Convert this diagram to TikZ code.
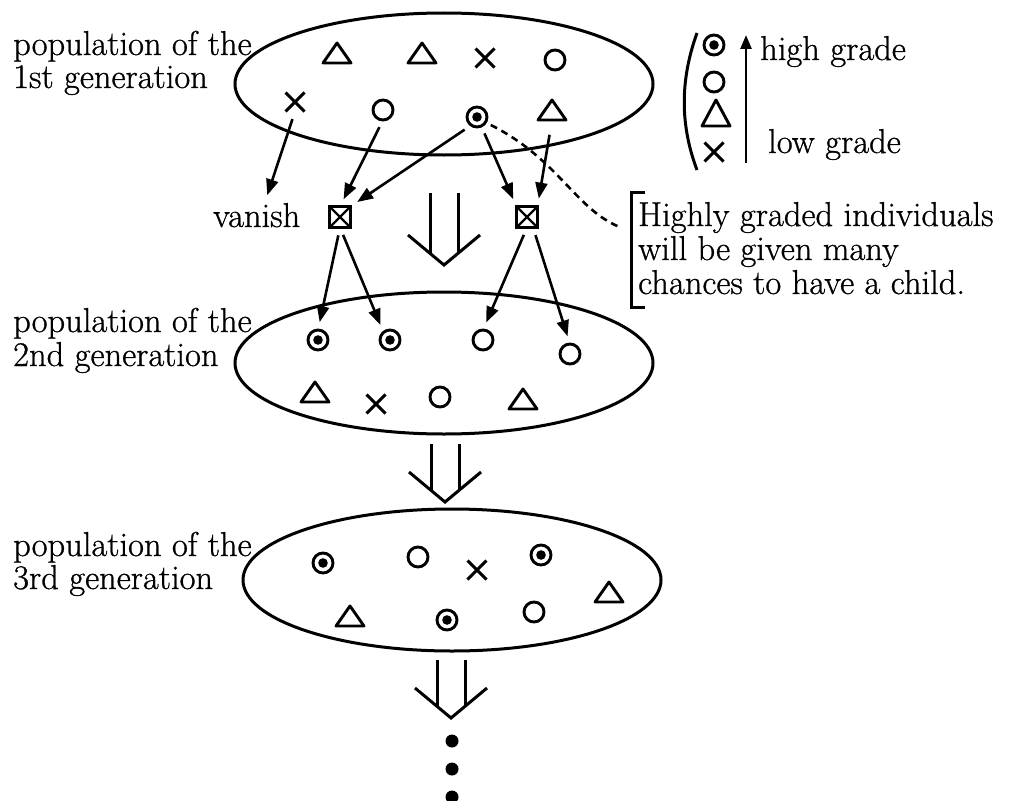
\documentclass[tikz,border=0pt]{standalone}
\usepackage{fontspec}
\setmainfont{Latin Modern Roman}[FakeBold=0.8]
\usetikzlibrary{arrows.meta,shapes.geometric,shapes.misc}
\newcommand{\trisym}[3][tri]{\node[#1] (#2) at (#3) {};
  \draw[triline] (#2.south west) -- (#2.north) -- (#2.south east) -- cycle;}
\newcommand{\hollowdown}[3]{%
  \draw[dblline] (#1-14,#2) -- (#1-14,#2+#3+18) (#1+14,#2) -- (#1+14,#2+#3+18);
  \draw[dblline] (#1-36,#2+#3) -- (#1,#2+#3+30) -- (#1+36,#2+#3);}
\begin{document}
\begin{tikzpicture}[x=1pt,y=-1pt,
  txt/.style={font=\fontsize{34.5}{36}\selectfont, inner sep=0pt, anchor=base west},
  pop/.style={ellipse, draw, line width=3pt, minimum width=418pt, minimum height=142pt, inner sep=0pt},
  symc/.style={circle, draw, line width=2.9pt, minimum size=20pt, inner sep=0pt, outer sep=0pt},
  symd/.style={symc, path picture={\fill (path picture bounding box.center) circle[radius=4.8pt];}},
  symx/.style={cross out, draw, line width=2.9pt, minimum size=19pt, inner sep=0pt, outer sep=0pt},
  tri/.style={inner sep=0pt, outer sep=0pt, minimum width=28pt, minimum height=20pt},
  bigtri/.style={inner sep=0pt, outer sep=0pt, minimum width=28pt, minimum height=26pt},
  triline/.style={line width=2.9pt, line join=round},
  boxsym/.style={draw, line width=3.2pt, minimum size=21pt, inner sep=0pt, outer sep=0pt,
    path picture={\draw[line width=2.4pt] (path picture bounding box.south west) -- (path picture bounding box.north east)
      (path picture bounding box.north west) -- (path picture bounding box.south east);}},
  arr/.style={line width=2.6pt, -{Triangle[length=16pt,width=12pt]}, shorten <=8pt, shorten >=8pt},
  dblline/.style={line width=3pt},
  dashline/.style={line width=2.6pt, dash pattern=on 7pt off 5pt},
  brk/.style={line width=3pt}
]
\useasboundingbox (0,0) rectangle (1011,800);

% populations
\node[pop] (pop1) at (444,84) {};
\node[pop] (pop2) at (444,363) {};
\node[pop] (pop3) at (452,580) {};

% labels
\node[txt] (lab1a) at (13,55) {population of the};
\node[txt] (lab1b) at (13,88) {1st generation};
\node[txt] (lab2a) at (13,332) {population of the};
\node[txt] (lab2b) at (13,366) {2nd generation};
\node[txt] (lab3a) at (13,556) {population of the};
\node[txt] (lab3b) at (13,589) {3rd generation};

% generation 1
\trisym{t1a}{337,53}
\trisym{t1b}{422,53}
\node[symx] (x1a) at (485,58) {};
\node[symc] (c1a) at (555,60) {};
\node[symx] (x1) at (295,102) {};
\node[symc] (c1) at (383,110) {};
\node[symd] (d1) at (477,117) {};
\trisym{t1}{552,110}

% boxes
\node[boxsym] (box1) at (340,217) {};
\node[boxsym] (box2) at (527,217) {};
\node[txt] (vanish) at (213,227) {vanish};

% generation 2
\node[symd] (d2a) at (318,340) {};
\node[symd] (d2b) at (390,340) {};
\node[symc] (c2a) at (483,340) {};
\node[symc] (c2b) at (570,354) {};
\trisym{t2a}{315,392}
\node[symx] (x2) at (376,404) {};
\node[symc] (c2c) at (440,397) {};
\trisym{t2b}{523,399}

% generation 3
\node[symd] (d3a) at (323,563) {};
\node[symc] (c3a) at (418,557) {};
\node[symx] (x3) at (477,570) {};
\node[symd] (d3b) at (541,555) {};
\trisym{t3a}{350,616}
\node[symd] (d3c) at (447,620) {};
\node[symc] (c3b) at (534,612) {};
\trisym{t3b}{609,592}

% arrows
\draw[arr] (x1.south) -- ([xshift=8pt]vanish.north);
\draw[arr] (c1.south) -- (box1.north);
\draw[arr] (d1.-125) -- (box1.north east);
\draw[arr] (d1.-65) -- (box2.north west);
\draw[arr, shorten <=15pt] (t1.south) -- (box2.north east);
\draw[arr] (box1.south) -- (d2a.north);
\draw[arr] (box1.south) -- (d2b.130);
\draw[arr] (box2.south) -- (c2a.north);
\draw[arr] (box2.-60) -- (c2b.north);

% hollow arrows
\hollowdown{444}{193}{42}
\hollowdown{445}{444}{28}
\hollowdown{451}{660}{28}

% dots
\fill (452,741) circle[radius=6.5pt];
\fill (452,769) circle[radius=6.5pt];
\fill (452,797) circle[radius=6.5pt];

% legend
\draw[brk] (697,33) .. controls (680,80) and (680,125) .. (697,170);
\node[symd] (l1) at (714,45) {};
\node[symc] (l2) at (714,82) {};
\trisym[bigtri]{l3}{716,113}
\node[symx] (l4) at (714,152) {};
\coordinate (lgbot) at (746,163);
\coordinate (lgtop) at (746,35);
\draw[line width=2.6pt, -{Triangle[length=14pt,width=11pt]}] (lgbot) -- (lgtop);
\node[txt] (high) at (760,60) {high grade};
\node[txt] (low) at (768,153) {low grade};

% note
\draw[brk] (645,192) -- (631,192) -- (631,307) -- (645,307);
\node[txt] (n1) at (638,226) {Highly graded individuals};
\node[txt] (n2) at (638,260) {will be given many};
\node[txt] (n3) at (638,294) {chances to have a child.};
\coordinate (noteend) at (622,228);
\draw[dashline, shorten <=6pt] (d1.-32) .. controls (560,160) and (575,210) .. (noteend);
\end{tikzpicture}
\end{document}
